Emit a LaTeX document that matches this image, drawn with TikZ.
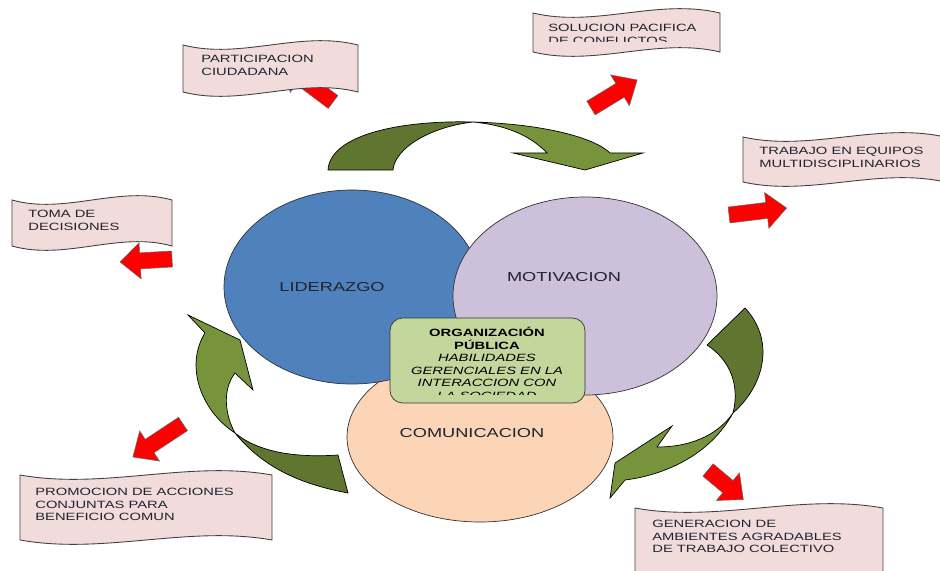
\documentclass[tikz,border=0pt]{standalone}
\usepackage{fontspec}
\setmainfont{Liberation Sans}[FakeStretch=1.4]
\usetikzlibrary{positioning}

\definecolor{azul}{HTML}{4F81BD}
\definecolor{lila}{HTML}{CCC0DA}
\definecolor{durazno}{HTML}{FBD5B5}
\definecolor{verdecaja}{HTML}{C3D69B}
\definecolor{verdeosc}{HTML}{5F7530}
\definecolor{verdeclaro}{HTML}{77933C}
\definecolor{rosa}{HTML}{F2DCDB}
\definecolor{tinta}{HTML}{1F2430}

\tikzset{
  cinta/.style={fill=rosa, draw=black!75, line width=0.5pt},
  textocinta/.style={anchor=north west, inner sep=0pt, align=left, text=tinta, font=\fontsize{6}{7}\selectfont},
  flecha/.style={fill=red, draw=black!60, line width=0.3pt},
  verdeA/.style={fill=verdeosc, draw=black, line width=0.4pt},
  verdeB/.style={fill=verdeclaro, draw=black, line width=0.4pt},
  etiqueta/.style={text=tinta, inner sep=0pt, font=\fontsize{7.4}{9}\selectfont},
}

% cinta ondulada: nombre, izq, arriba, der, abajo, x y del texto, texto
\newcommand\cinta[8]{%
  \pgfmathsetmacro\wa{#2+(#4-#2)/3}%
  \pgfmathsetmacro\wb{#2+2*(#4-#2)/3}%
  \filldraw[cinta] (#2,#3) .. controls (\wa,#3+15) and (\wb,#3-15) .. (#4,#3)
    -- (#4,#5) .. controls (\wb,#5-15) and (\wa,#5+15) .. (#2,#5) -- cycle;
  \begin{scope}
    \clip (#2,#3) rectangle (#4,#5-10);
    \node[textocinta] (#1) at (#6,#7) {#8};
  \end{scope}}

% flecha roja: x, y, angulo, largo
\newcommand\flecharoja[4]{%
  \filldraw[flecha, shift={(#1,#2)}, rotate=#3] (0,-8) -- (#4-20,-8) -- (#4-20,-18)
    -- (#4,0) -- (#4-20,18) -- (#4-20,8) -- (0,8) -- cycle;}

\begin{document}
\begin{tikzpicture}[x=0.02cm, y=-0.02cm]
  \useasboundingbox (0,0) rectangle (940,571);

  % circulos
  \filldraw[fill=durazno, draw=black!80] (480,437) ellipse (133 and 85);
  \filldraw[fill=azul, draw=black!80] (352,287) ellipse (128 and 97);
  \filldraw[fill=lila, draw=black!80] (585,296) ellipse (132 and 99);

  \node[etiqueta] (lider) at (332,287) {LIDERAZGO};
  \node[etiqueta] (motiv) at (564,277) {MOTIVACION};
  \node[etiqueta] (comun) at (472,433) {COMUNICACION};

  % caja central
  \node[draw=black!80, fill=verdecaja, rounded corners=0.25cm,
        minimum width=3.9cm, minimum height=1.7cm] (org) at (487.5,360.5) {};
  \begin{scope}
    \clip (390,318) rectangle (585,394);
    \node[anchor=north, inner sep=0pt, align=center, text=black,
          font=\fontsize{6}{7.1}\selectfont] (orgtexto) at (487,327)
      {\textbf{ORGANIZACIÓN}\\ \textbf{PÚBLICA}\\ \textit{HABILIDADES}\\
       \textit{GERENCIALES EN LA}\\ \textit{INTERACCION CON}\\ \textit{LA SOCIEDAD}};
  \end{scope}

  % flechas verdes
  \filldraw[verdeA] (328,170) .. controls (330,135) and (400,120) .. (473,122)
    .. controls (430,127) and (395,148) .. (393,170) -- cycle;
  \filldraw[verdeB] (473,122) .. controls (545,124) and (595,138) .. (610,153)
    -- (643,153) -- (585,170) -- (513,153) -- (547,153)
    .. controls (530,135) and (505,125) .. (473,122) -- cycle;

  \filldraw[verdeA] (745,308) .. controls (775,340) and (765,385) .. (733,413)
    .. controls (740,385) and (730,360) .. (707,345) -- cycle;
  \filldraw[verdeB] (733,413) .. controls (720,432) and (695,447) .. (657,447)
    -- (672,426) -- (615,463) -- (610,498) -- (625,480)
    .. controls (665,475) and (710,455) .. (733,413) -- cycle;

  \filldraw[verdeA] (235,433) .. controls (265,470) and (305,485) .. (348,493)
    -- (338,455) .. controls (295,458) and (258,452) .. (235,433) -- cycle;
  \filldraw[verdeB] (235,433) .. controls (200,410) and (185,365) .. (205,333)
    -- (188,315) -- (240,340) -- (253,390) -- (235,373)
    .. controls (222,390) and (225,415) .. (235,433) -- cycle;

  % flechas rojas
  \flecharoja{333}{102}{143.1}{60}
  \flecharoja{591}{108}{31.3}{54}
  \flecharoja{729}{215}{6.9}{58}
  \flecharoja{172}{259}{183.3}{52}
  \flecharoja{183}{424}{213.4}{60}
  \flecharoja{708}{470}{-39.9}{46}

  % cintas
  \cinta{partic}{183}{45}{358}{92}{201}{55}{PARTICIPACION\\ CIUDADANA}
  \cinta{soluc}{533}{13}{720}{52}{548}{24}{SOLUCION PACIFICA\\ DE CONFLICTOS}
  \cinta{trabajo}{743}{137}{945}{182}{759}{147}{TRABAJO EN EQUIPOS\\ MULTIDISCIPLINARIOS}
  \cinta{toma}{12}{200}{172}{246}{28}{210}{TOMA DE\\ DECISIONES}
  \cinta{promo}{20}{475}{272}{540}{35}{488}{PROMOCION DE ACCIONES\\ CONJUNTAS PARA\\ BENEFICIO COMUN}
  \cinta{genera}{635}{508}{883}{577}{652}{520}{GENERACION DE\\ AMBIENTES AGRADABLES\\ DE TRABAJO COLECTIVO}
\end{tikzpicture}
\end{document}
